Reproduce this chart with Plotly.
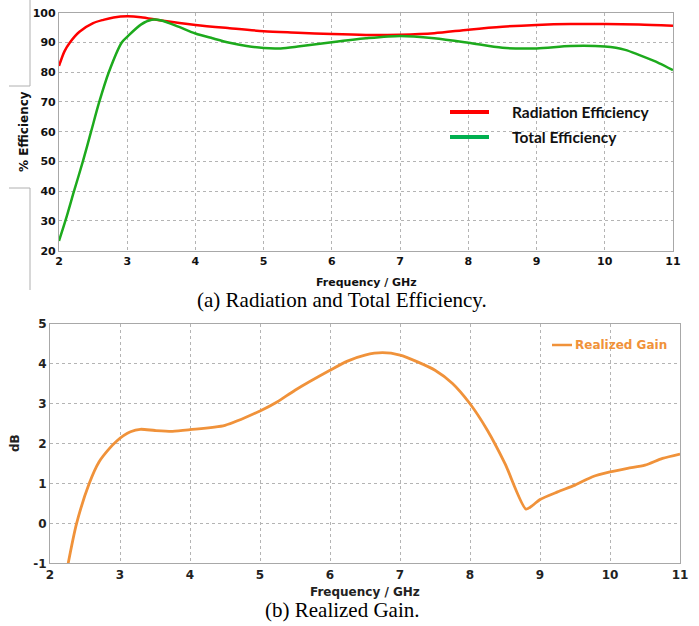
import plotly.graph_objects as go

W, H = 699, 626

# ---- data: (a) efficiency ----
rad_freq = [2.0, 2.08, 2.16, 2.3, 2.5, 2.65, 2.8, 3.0, 3.2, 3.5, 4.0, 4.5, 5.0, 5.5, 6.0,
            6.5, 7.0, 7.5, 8.0, 8.5, 9.0, 9.5, 10.0, 10.5, 11.0]
rad_eff = [82.1, 87.0, 90.0, 93.6, 96.5, 97.6, 98.4, 98.8, 98.5, 97.4, 95.9, 94.8, 93.8, 93.3, 92.8,
           92.5, 92.6, 93.1, 94.3, 95.3, 95.9, 96.2, 96.2, 96.0, 95.6]

tot_freq = [2.0, 2.1, 2.22, 2.35, 2.47, 2.59, 2.73, 2.92, 3.0, 3.2, 3.36, 3.5, 3.75, 4.0, 4.25, 4.5,
            4.75, 5.0, 5.25, 5.5, 6.0, 6.5, 7.0, 7.5, 8.0, 8.5, 9.0, 9.5, 10.0, 10.3, 10.5, 10.8, 11.0]
tot_eff = [23.3, 30.5, 40.0, 50.0, 60.0, 70.0, 80.0, 90.0, 91.9, 96.0, 97.6, 97.4, 95.3, 93.0, 91.4, 89.9,
           88.8, 88.1, 88.0, 88.6, 90.1, 91.4, 92.2, 91.4, 89.9, 88.2, 88.0, 88.8, 88.6, 87.5, 85.8, 83.0, 80.7]

# ---- data: (b) realized gain ----
gain_freq = [2.26, 2.38, 2.56, 2.7, 2.85, 2.95, 3.05, 3.15, 3.29, 3.5, 3.75, 4.0, 4.5, 5.0, 5.25, 5.5,
             6.0, 6.25, 6.5, 6.75, 7.0, 7.25, 7.5, 7.75, 8.0, 8.25, 8.5, 8.8, 8.9, 9.0, 9.25, 9.5,
             9.75, 10.0, 10.25, 10.5, 10.75, 11.0]
gain_db = [-1.0, 0.0, 1.0, 1.54, 1.88, 2.06, 2.2, 2.3, 2.36, 2.33, 2.31, 2.35, 2.46, 2.82, 3.05, 3.34,
           3.84, 4.07, 4.22, 4.28, 4.22, 4.05, 3.84, 3.51, 3.0, 2.33, 1.50, 0.36, 0.46, 0.6, 0.79, 0.96,
           1.17, 1.29, 1.38, 1.46, 1.63, 1.74]

x_ticks = [2, 3, 4, 5, 6, 7, 8, 9, 10, 11]
eff_ticks = [20, 30, 40, 50, 60, 70, 80, 90, 100]
gain_ticks = [-1, 0, 1, 2, 3, 4, 5]

RED = "#FF0000"
GREEN = "#1DAA1D"
ORANGE = "#F0923A"


def px(x):
    return x / W


def py(y):
    return 1 - y / H


def bold(vals):
    return ["<b>%s</b>" % v for v in vals]


fig = go.Figure()
fig.add_trace(go.Scatter(x=rad_freq, y=rad_eff, mode="lines", name="Radiation Efficiency",
                         line=dict(color=RED, width=2.5, shape="spline", smoothing=0.8),
                         xaxis="x", yaxis="y", showlegend=False))
fig.add_trace(go.Scatter(x=tot_freq, y=tot_eff, mode="lines", name="Total Efficiency",
                         line=dict(color=GREEN, width=2.5, shape="spline", smoothing=0.8),
                         xaxis="x", yaxis="y", showlegend=False))
fig.add_trace(go.Scatter(x=gain_freq, y=gain_db, mode="lines", name="Realized Gain",
                         line=dict(color=ORANGE, width=2.8, shape="spline", smoothing=0.7),
                         xaxis="x2", yaxis="y2", showlegend=False))

tick_font_a = dict(family="DejaVu Sans", size=11, color="#111111")
tick_font_b = dict(family="DejaVu Sans", size=12, color="#222222")
grid = dict(showgrid=True, gridcolor="#b4b4b4", griddash="dot", gridwidth=1,
            showline=True, linecolor="#a8a8a8", linewidth=1.2, mirror=True,
            zeroline=False, ticks="", automargin=False)

fig.update_layout(
    template="none",
    width=W, height=H, autosize=False,
    margin=dict(l=0, r=0, t=0, b=0, pad=0),
    paper_bgcolor="white", plot_bgcolor="white",
    xaxis=dict(domain=[px(59), px(673)], range=[2, 11], tickvals=x_ticks, ticktext=bold(x_ticks),
               anchor="y", tickfont=tick_font_a, **grid),
    yaxis=dict(domain=[py(250.7), py(12.7)], range=[20, 100], tickvals=eff_ticks,
               ticktext=bold(eff_ticks), anchor="x", tickfont=tick_font_a, **grid),
    xaxis2=dict(domain=[px(50), px(680)], range=[2, 11], tickvals=x_ticks, ticktext=bold(x_ticks),
                anchor="y2", tickfont=tick_font_b, **grid),
    yaxis2=dict(domain=[py(563.3), py(324)], range=[-1, 5], tickvals=gain_ticks,
                ticktext=bold(gain_ticks), anchor="x2", tickfont=tick_font_b, **grid),
)

ann = []
# axis titles
ann.append(dict(text="<b>Frequency / GHz</b>", x=px(366), y=py(282), xref="paper", yref="paper",
                showarrow=False, xanchor="center", yanchor="middle",
                font=dict(family="DejaVu Sans", size=11, color="#111111")))
ann.append(dict(text="<b>% Efficiency</b>", x=px(24), y=py(132), xref="paper", yref="paper",
                showarrow=False, xanchor="center", yanchor="middle", textangle=-90,
                font=dict(family="DejaVu Sans", size=12, color="#111111")))
ann.append(dict(text="<b>Frequency / GHz</b>", x=px(365), y=py(592), xref="paper", yref="paper",
                showarrow=False, xanchor="center", yanchor="middle",
                font=dict(family="DejaVu Sans", size=12, color="#222222")))
ann.append(dict(text="<b>dB</b>", x=px(15), y=py(443), xref="paper", yref="paper",
                showarrow=False, xanchor="center", yanchor="middle", textangle=-90,
                font=dict(family="DejaVu Sans", size=12, color="#222222")))
# captions
ann.append(dict(text="(a) Radiation and Total Efficiency.", x=px(342), y=py(300), xref="paper",
                yref="paper", showarrow=False, xanchor="center", yanchor="middle",
                font=dict(family="Liberation Serif", size=21, color="#000000")))
ann.append(dict(text="(b) Realized Gain.", x=px(342), y=py(610), xref="paper",
                yref="paper", showarrow=False, xanchor="center", yanchor="middle",
                font=dict(family="Liberation Serif", size=21, color="#000000")))
# legend (a)
ann.append(dict(text="<b>Radiation Efficiency</b>", x=px(510), y=py(112), xref="paper", yref="paper",
                showarrow=False, xanchor="left", yanchor="middle",
                font=dict(family="Lato", size=15.5, color="#111111")))
ann.append(dict(text="<b>Total Efficiency</b>", x=px(510), y=py(137), xref="paper", yref="paper",
                showarrow=False, xanchor="left", yanchor="middle",
                font=dict(family="Lato", size=15.5, color="#111111")))
# legend (b)
ann.append(dict(text="<b>Realized Gain</b>", x=px(573), y=py(345), xref="paper", yref="paper",
                showarrow=False, xanchor="left", yanchor="middle",
                font=dict(family="DejaVu Sans", size=12, color=ORANGE)))

shapes = [
    dict(type="line", xref="paper", yref="paper", x0=px(450), x1=px(489), y0=py(112), y1=py(112),
         line=dict(color=RED, width=4)),
    dict(type="line", xref="paper", yref="paper", x0=px(450), x1=px(489), y0=py(137), y1=py(137),
         line=dict(color="#00B050", width=4)),
    dict(type="line", xref="paper", yref="paper", x0=px(552), x1=px(572), y0=py(345), y1=py(345),
         line=dict(color=ORANGE, width=2.5)),
    # bracket lines around the y title of (a)
    dict(type="line", xref="paper", yref="paper", x0=px(30), x1=px(30), y0=py(0), y1=py(86),
         line=dict(color="#b0b0b0", width=1)),
    dict(type="line", xref="paper", yref="paper", x0=px(9), x1=px(30), y0=py(86), y1=py(86),
         line=dict(color="#b0b0b0", width=1)),
    dict(type="line", xref="paper", yref="paper", x0=px(9), x1=px(30), y0=py(188), y1=py(188),
         line=dict(color="#b0b0b0", width=1)),
    dict(type="line", xref="paper", yref="paper", x0=px(30), x1=px(30), y0=py(188), y1=py(290),
         line=dict(color="#b0b0b0", width=1)),
]

fig.update_layout(annotations=ann, shapes=shapes)
fig.write_html("out.html")
